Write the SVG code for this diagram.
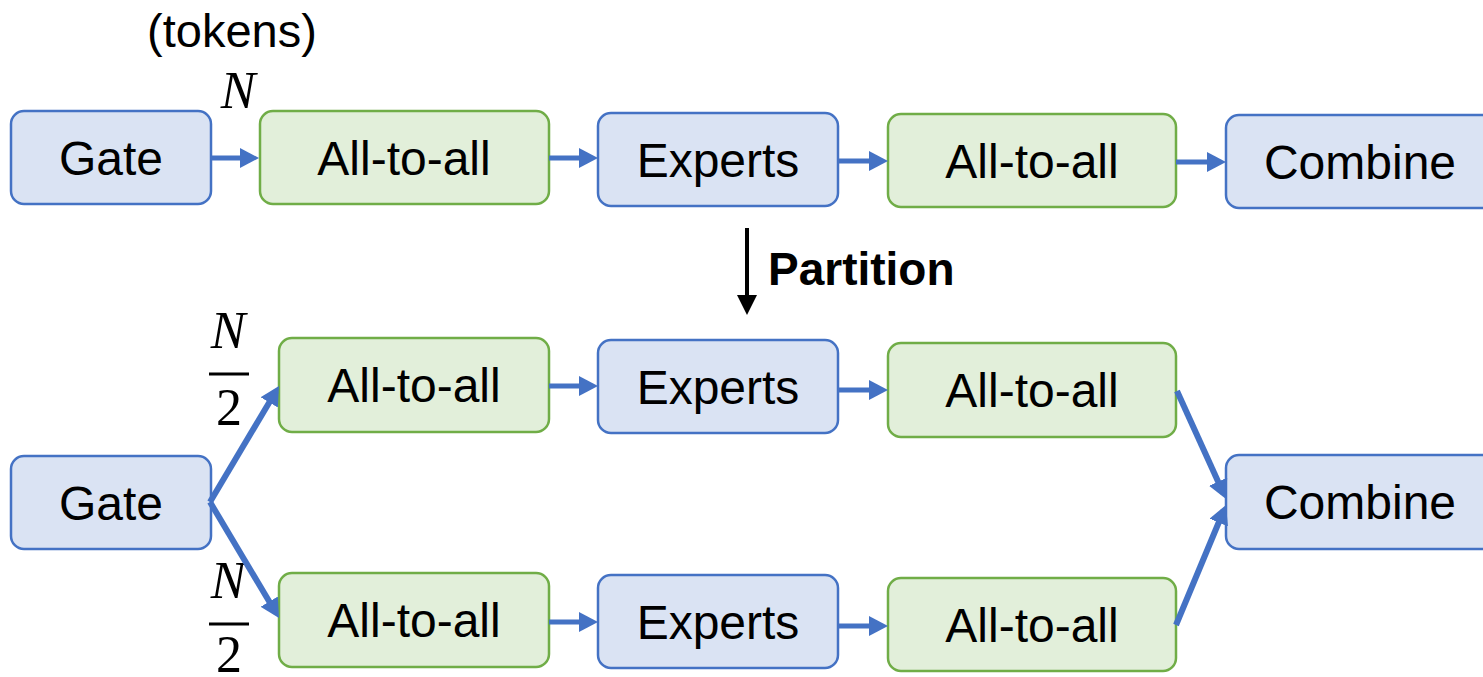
<svg xmlns="http://www.w3.org/2000/svg" width="1483" height="677" viewBox="0 0 1483 677">
  <defs>
    <style>
      .blue { fill: #DAE3F3; stroke: #4472C4; stroke-width: 2.5; }
      .green { fill: #E2EFDA; stroke: #70AD47; stroke-width: 2.5; }
      .lbl { font-family: "Liberation Sans", Arial, sans-serif; font-size: 48px; fill: #000; text-anchor: middle; }
      .math { font-family: "Liberation Serif", "Times New Roman", serif; font-size: 52px; fill: #000; text-anchor: middle; }
      .flow { stroke: #4472C4; stroke-width: 5; fill: none; marker-end: url(#head); }
      .diag { stroke-width: 6; }
    </style>
    <marker id="head" markerUnits="userSpaceOnUse" markerWidth="19" markerHeight="20" refX="13" refY="10" orient="auto">
      <path d="M0,0 L19,10 L0,20 z" fill="#4472C4"/>
    </marker>
  </defs>
  <rect width="1483" height="677" fill="#fff"/>

  <!-- labels above the first row -->
  <text x="232" y="47" font-family="Liberation Sans, Arial, sans-serif" font-size="47" text-anchor="middle">(tokens)</text>
  <text class="math" x="238" y="108" font-style="italic">N</text>

  <!-- first row: unpartitioned pipeline -->
  <g id="gate-top"><rect class="blue" x="11" y="111" width="200" height="93" rx="13"/><text class="lbl" x="111" y="175">Gate</text></g>
  <g id="a2a-top-1"><rect class="green" x="260" y="111" width="289" height="93" rx="13"/><text class="lbl" x="404" y="175">All-to-all</text></g>
  <g id="experts-top"><rect class="blue" x="598" y="113" width="240" height="93" rx="13"/><text class="lbl" x="718" y="177">Experts</text></g>
  <g id="a2a-top-2"><rect class="green" x="888" y="114" width="288" height="93" rx="13"/><text class="lbl" x="1032" y="178">All-to-all</text></g>
  <g id="combine-top"><rect class="blue" x="1226" y="115" width="270" height="93" rx="13"/><text class="lbl" x="1360" y="179">Combine</text></g>

  <!-- partition step -->
  <g id="partition">
    <line x1="747" y1="228" x2="747" y2="298" stroke="#000" stroke-width="4"/>
    <polygon points="737,295 757,295 747,315" fill="#000"/>
    <text x="768" y="285" font-family="Liberation Sans, Arial, sans-serif" font-size="46" font-weight="bold">Partition</text>
  </g>

  <!-- split sizes -->
  <g id="frac-upper">
    <text class="math" x="228" y="348" font-style="italic">N</text>
    <line x1="209" y1="374" x2="249" y2="374" stroke="#000" stroke-width="3"/>
    <text class="math" x="229" y="425">2</text>
  </g>
  <g id="frac-lower">
    <text class="math" x="228" y="598" font-style="italic">N</text>
    <line x1="209" y1="624" x2="249" y2="624" stroke="#000" stroke-width="3"/>
    <text class="math" x="229" y="672">2</text>
  </g>

  <!-- partitioned pipeline -->
  <g id="gate-bottom"><rect class="blue" x="11" y="456" width="200" height="93" rx="13"/><text class="lbl" x="111" y="520">Gate</text></g>
  <g id="a2a-p1-1"><rect class="green" x="279" y="338" width="270" height="94" rx="13"/><text class="lbl" x="414" y="402">All-to-all</text></g>
  <g id="experts-p1"><rect class="blue" x="598" y="340" width="240" height="93" rx="13"/><text class="lbl" x="718" y="404">Experts</text></g>
  <g id="a2a-p1-2"><rect class="green" x="888" y="343" width="288" height="94" rx="13"/><text class="lbl" x="1032" y="407">All-to-all</text></g>
  <g id="a2a-p2-1"><rect class="green" x="279" y="573" width="270" height="94" rx="13"/><text class="lbl" x="414" y="637">All-to-all</text></g>
  <g id="experts-p2"><rect class="blue" x="598" y="575" width="240" height="93" rx="13"/><text class="lbl" x="718" y="639">Experts</text></g>
  <g id="a2a-p2-2"><rect class="green" x="888" y="578" width="288" height="93" rx="13"/><text class="lbl" x="1032" y="642">All-to-all</text></g>
  <g id="combine-bottom"><rect class="blue" x="1226" y="455" width="270" height="94" rx="13"/><text class="lbl" x="1360" y="519">Combine</text></g>

  <!-- connectors -->
  <g id="connectors">
    <line class="flow" x1="211" y1="158" x2="253" y2="158"/>
    <line class="flow" x1="549" y1="158" x2="592" y2="158"/>
    <line class="flow" x1="838" y1="161" x2="882" y2="161"/>
    <line class="flow" x1="1176" y1="162" x2="1220" y2="162"/>

    <line class="flow diag" x1="210" y1="502" x2="275.9" y2="391.2"/>
    <line class="flow diag" x1="210" y1="502" x2="275.9" y2="612.8"/>

    <line class="flow" x1="549" y1="386" x2="592" y2="386"/>
    <line class="flow" x1="838" y1="390" x2="882" y2="390"/>
    <line class="flow" x1="549" y1="622" x2="592" y2="622"/>
    <line class="flow" x1="838" y1="626" x2="882" y2="626"/>

    <line class="flow diag" x1="1177" y1="391" x2="1223.5" y2="493.5"/>
    <line class="flow diag" x1="1176" y1="625" x2="1223.7" y2="510.5"/>
  </g>
</svg>
